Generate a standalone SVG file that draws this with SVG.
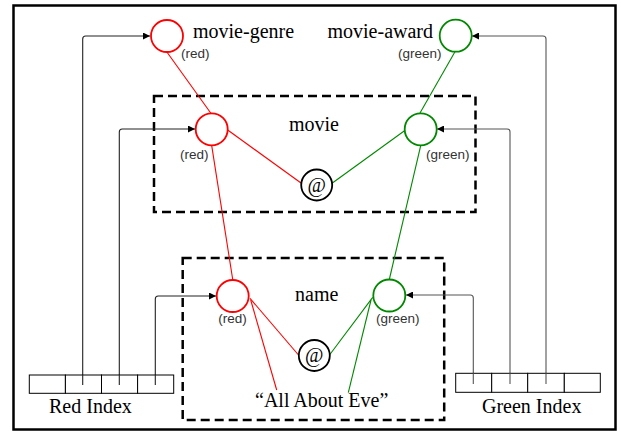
<svg xmlns="http://www.w3.org/2000/svg" width="621" height="433" viewBox="0 0 621 433">
<defs>
<marker id="arr" viewBox="0 0 10 10" refX="10" refY="5" markerWidth="8" markerHeight="7" markerUnits="userSpaceOnUse" orient="auto">
<path d="M0,0 L10,5 L0,10 z" fill="#000"/>
</marker>
</defs>
<style>
.t{font-family:"Liberation Serif","Times New Roman",serif;font-size:20px;fill:#000}
.s{font-family:"Liberation Sans",Arial,sans-serif;font-size:13.5px;fill:#333}
.box{fill:none;stroke:#000;stroke-width:2.5;stroke-dasharray:9 5}
.rc{fill:#fff;stroke:#f00;stroke-width:1.8}
.gc{fill:#fff;stroke:#080;stroke-width:1.8}
.ac{fill:#fff;stroke:#000;stroke-width:1.8}
.rl{stroke:#f00;stroke-width:1.1;fill:none}
.gl{stroke:#080;stroke-width:1.1;fill:none}
.ptr{fill:none;stroke:#222;stroke-width:1.1;marker-end:url(#arr)}
.ptrg{fill:none;stroke:#555;stroke-width:1.1;marker-end:url(#arr)}
.cell{fill:#fff;stroke:#000;stroke-width:1}
</style>
<rect x="13.5" y="5.5" width="602" height="424" fill="#fff" stroke="#000" stroke-width="2.5"/>

<g id="movie-box"><rect class="box" x="154" y="96" width="321.5" height="116"/><text class="t" x="289" y="131">movie</text></g>
<g id="name-box"><rect class="box" x="182.7" y="258" width="261.5" height="162"/><text class="t" x="295" y="301">name</text></g>

<g id="connectors">
<line class="rl" x1="166.7" y1="51.7" x2="210.7" y2="113"/>
<line class="rl" x1="227.7" y1="130" x2="301.7" y2="183.5"/>
<line class="rl" x1="211.7" y1="145.7" x2="232.7" y2="279.5"/>
<line class="rl" x1="250" y1="298.3" x2="298.5" y2="355"/>
<line class="rl" x1="250.7" y1="300" x2="276.7" y2="390"/>
<line class="gl" x1="455" y1="51.7" x2="420" y2="113"/>
<line class="gl" x1="404.5" y1="130.7" x2="331.7" y2="183.5"/>
<line class="gl" x1="420.7" y1="145.7" x2="389.3" y2="279.5"/>
<line class="gl" x1="372.7" y1="297.3" x2="329.5" y2="355"/>
<line class="gl" x1="371" y1="300" x2="348.3" y2="392.7"/>
<path class="ptr" d="M82.7,385 V39 Q82.7,36 85.7,36 H150"/>
<path class="ptr" d="M119.3,385 V132 Q119.3,129 122.3,129 H195"/>
<path class="ptr" d="M155.3,385 V299 Q155.3,296 158.3,296 H216"/>
<path class="ptrg" d="M473.3,384 V298 Q473.3,295 470.3,295 H406"/>
<path class="ptrg" d="M510,384 V132 Q510,129 507,129 H437"/>
<path class="ptrg" d="M546,384 V39 Q546,36 543,36 H472"/>
</g>

<g id="movie-genre"><circle class="rc" cx="167" cy="36" r="16"/><text class="t" x="193" y="37.5">movie-genre</text><text class="s" x="181" y="57.5">(red)</text></g>
<g id="movie-award"><circle class="gc" cx="455.7" cy="35.7" r="16"/><text class="t" x="433" y="37.5" text-anchor="end">movie-award</text><text class="s" x="398" y="57.5">(green)</text></g>
<g id="movie-red"><circle class="rc" cx="211.7" cy="129.3" r="16"/><text class="s" x="180" y="158.5">(red)</text></g>
<g id="movie-green"><circle class="gc" cx="420.7" cy="129.3" r="16"/><text class="s" x="426" y="158.5">(green)</text></g>
<g id="movie-at"><circle class="ac" cx="316.7" cy="185" r="15.5"/><text class="t" x="316.7" y="191.5" text-anchor="middle">@</text></g>
<g id="name-red"><circle class="rc" cx="232.7" cy="296" r="16"/><text class="s" x="218.3" y="323">(red)</text></g>
<g id="name-green"><circle class="gc" cx="389.3" cy="295.5" r="16"/><text class="s" x="376" y="323">(green)</text></g>
<g id="name-at"><circle class="ac" cx="314.3" cy="355.5" r="15.5"/><text class="t" x="314.3" y="362" text-anchor="middle">@</text></g>
<g id="value"><text class="t" x="255" y="407.3">“All About Eve”</text></g>

<g id="red-index">
<rect class="cell" x="29.3" y="375" width="36.1" height="18.3"/>
<rect class="cell" x="65.4" y="375" width="36.1" height="18.3"/>
<rect class="cell" x="101.5" y="375" width="36.1" height="18.3"/>
<rect class="cell" x="137.6" y="375" width="36.1" height="18.3"/>
<text class="t" x="49" y="413">Red Index</text>
</g>
<g id="green-index">
<rect class="cell" x="455.7" y="373.3" width="36" height="19"/>
<rect class="cell" x="491.7" y="373.3" width="36" height="19"/>
<rect class="cell" x="527.7" y="373.3" width="36.6" height="19"/>
<rect class="cell" x="564.3" y="373.3" width="36" height="19"/>
<text class="t" x="482" y="412.7">Green Index</text>
</g>
<g id="idx-lines">
<line x1="82.7" y1="375" x2="82.7" y2="385" stroke="#222" stroke-width="1.1"/>
<line x1="119.3" y1="375" x2="119.3" y2="385" stroke="#222" stroke-width="1.1"/>
<line x1="155.3" y1="375" x2="155.3" y2="385" stroke="#222" stroke-width="1.1"/>
<line x1="473.3" y1="373.3" x2="473.3" y2="384" stroke="#555" stroke-width="1.1"/>
<line x1="510" y1="373.3" x2="510" y2="384" stroke="#555" stroke-width="1.1"/>
<line x1="546" y1="373.3" x2="546" y2="384" stroke="#555" stroke-width="1.1"/>
</g>
</svg>
